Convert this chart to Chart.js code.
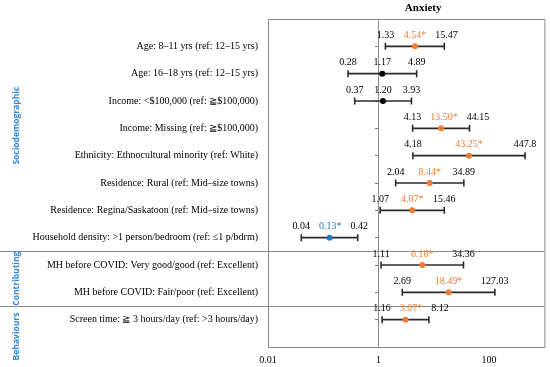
<!DOCTYPE html>
<html lang="en">
<head>
<meta charset="UTF-8" />
<title>Anxiety – odds ratios</title>
<script src="https://cdn.jsdelivr.net/npm/chart.js@4"></script>
<style>
  html, body { margin: 0; padding: 0; background: #fff; }
  #wrap { width: 550px; height: 367px; position: relative; }
</style>
</head>
<body>
<div id="wrap"><canvas id="forest"></canvas></div>
<script>
  const categories = [
    'Age: 8–11 yrs (ref: 12–15 yrs)',
    'Age: 16–18 yrs (ref: 12–15 yrs)',
    'Income: <$100,000 (ref: ≧$100,000)',
    'Income: Missing (ref: ≧$100,000)',
    'Ethnicity: Ethnocultural minority (ref: White)',
    'Residence: Rural (ref: Mid–size towns)',
    'Residence: Regina/Saskatoon (ref: Mid–size towns)',
    'Household density: >1 person/bedroom (ref: ≤1 p/bdrm)',
    'MH before COVID: Very good/good (ref: Excellent)',
    'MH before COVID: Fair/poor (ref: Excellent)',
    'Screen time: ≧ 3 hours/day (ref: >3 hours/day)'
  ];
  const estimates = [4.54, 1.17, 1.20, 13.50, 43.25, 8.44, 4.07, 0.13, 6.18, 18.49, 3.07];
  const lower = [1.33, 0.28, 0.37, 4.13, 4.18, 2.04, 1.07, 0.04, 1.11, 2.69, 1.16];
  const upper = [15.47, 4.89, 3.93, 44.15, 447.8, 34.89, 15.46, 0.42, 34.36, 127.03, 8.12];
  const groups = ['Sociodemographic', 'Contributing', 'Behaviours'];
  const groupEnds = [7, 9, 10]; // last row of each group
  const xTicks = [0.01, 1, 100];

  const ORANGE = '#ED7D31', BLUE = '#1F78C8', GROUP_BLUE = '#2F88D8';
  const SERIF = "'Liberation Serif', 'DejaVu Serif', serif";

  const rows = categories.map((c, i) => i);
  const colorOf = i => lower[i] > 1 ? ORANGE : (upper[i] < 1 ? BLUE : '#000');
  const fmt = v => v >= 100 ? String(v) : v.toFixed(2);
  const rowTicks = s => { s.ticks = rows.map(v => ({ value: v })); };

  const whiskers = rows.map(i => ({
    data: [{ x: lower[i], y: i }, { x: upper[i], y: i }],
    order: 1,
    showLine: true,
    borderColor: '#2b2b2b',
    borderWidth: 1.6,
    pointStyle: 'line',
    pointRotation: 90,
    pointRadius: 3.5,
    pointBorderColor: '#2b2b2b',
    pointBorderWidth: 1.6
  }));

  const points = {
    data: rows.map(i => ({ x: estimates[i], y: i })),
    order: 0,
    pointRadius: 3,
    pointBorderWidth: 0,
    pointBorderColor: 'rgba(0,0,0,0)',
    pointBackgroundColor: rows.map(colorOf)
  };

  const decorations = {
    id: 'decorations',
    beforeDatasetsDraw(chart) {
      const { ctx, chartArea: a, scales } = chart;
      ctx.save();
      ctx.strokeStyle = '#8a8a8a';
      ctx.lineWidth = 1;
      ctx.strokeRect(a.left + 0.5, a.top + 0.5, a.right - a.left, a.bottom - a.top);
      // group separators run across the label column too
      groupEnds.slice(0, -1).forEach(e => {
        const y = Math.round(scales.y.getPixelForValue(e + 0.5)) + 0.5;
        ctx.beginPath();
        ctx.moveTo(0, y);
        ctx.lineTo(a.right, y);
        ctx.stroke();
      });
      ctx.restore();
    },
    afterDatasetsDraw(chart) {
      const { ctx, scales } = chart;
      ctx.save();
      ctx.font = '10px ' + SERIF;
      ctx.textAlign = 'center';
      ctx.textBaseline = 'middle';
      rows.forEach(i => {
        const y = scales.y.getPixelForValue(i) - 11;
        const texts = [fmt(lower[i]), fmt(estimates[i]) + (colorOf(i) !== '#000' ? '*' : ''), fmt(upper[i])];
        const cols = ['#000', colorOf(i), '#000'];
        const xs = [lower[i], estimates[i], upper[i]].map(v => scales.x.getPixelForValue(v));
        const w = texts.map(t => ctx.measureText(t).width);
        for (let k = 1; k < 3; k++) {
          const minX = xs[k - 1] + w[k - 1] / 2 + 9 + w[k] / 2;
          if (xs[k] < minX) xs[k] = minX;
        }
        texts.forEach((t, k) => { ctx.fillStyle = cols[k]; ctx.fillText(t, xs[k], y); });
      });
      ctx.restore();
    },
    afterDraw(chart) {
      const { ctx, chartArea: a, scales } = chart;
      ctx.save();
      ctx.fillStyle = '#000';
      ctx.font = 'bold 11px ' + SERIF;
      ctx.textAlign = 'center';
      ctx.textBaseline = 'middle';
      ctx.fillText('Anxiety', (a.left + a.right) / 2 + 17, 8);

      ctx.fillStyle = GROUP_BLUE;
      ctx.font = "bold 8.5px 'Open Sans', 'DejaVu Sans', sans-serif";
      let start = 0;
      groups.forEach((g, k) => {
        const end = k < groups.length - 1 ? scales.y.getPixelForValue(groupEnds[k] + 0.5) : chart.height;
        ctx.save();
        ctx.translate(17, (start + end) / 2);
        ctx.rotate(-Math.PI / 2);
        ctx.fillText(g, 0, 0);
        ctx.restore();
        start = end;
      });
      ctx.restore();
    }
  };

  new Chart(document.getElementById('forest'), {
    type: 'scatter',
    data: { datasets: [...whiskers, points] },
    plugins: [decorations],
    options: {
      responsive: true,
      maintainAspectRatio: false,
      animation: false,
      layout: { padding: { top: 19, right: 5, left: 0, bottom: 0 } },
      plugins: { legend: { display: false }, tooltip: { enabled: false } },
      scales: {
        x: {
          type: 'logarithmic',
          min: 0.01,
          max: 1000,
          afterBuildTicks: s => { s.ticks = xTicks.map(v => ({ value: v })); },
          afterFit: s => { s.height = 20; },
          ticks: { callback: v => String(v), font: { family: SERIF, size: 10 }, color: '#000', padding: 7, maxRotation: 0 },
          grid: { display: false, drawTicks: false },
          border: { display: false }
        },
        y: {
          type: 'linear',
          min: -1,
          max: 11,
          reverse: true,
          afterBuildTicks: rowTicks,
          afterFit: s => { s.width = 268; },
          ticks: { callback: v => categories[v], font: { family: SERIF, size: 10 }, color: '#000', padding: 10 },
          grid: { display: false, drawTicks: false },
          border: { display: false }
        },
        y2: {
          axis: 'y',
          type: 'linear',
          position: { x: 1 },
          min: -1,
          max: 11,
          reverse: true,
          afterBuildTicks: rowTicks,
          ticks: { display: false },
          grid: { drawOnChartArea: false, drawTicks: true, tickLength: 3, color: '#777' },
          border: { display: true, color: '#8a8a8a', width: 1 }
        }
      }
    }
  });
</script>
</body>
</html>
